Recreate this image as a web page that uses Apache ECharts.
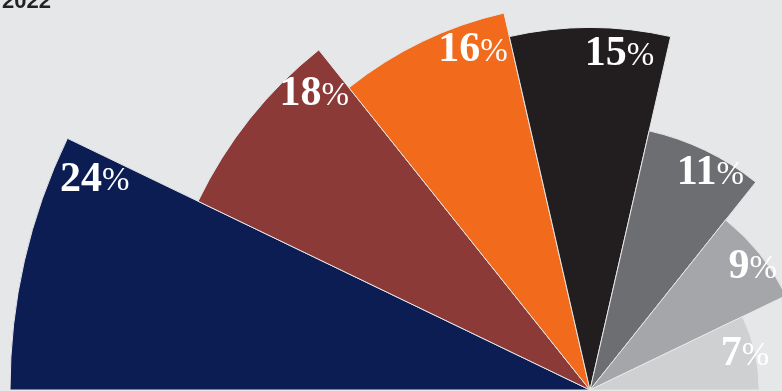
<!DOCTYPE html>
<html>
<head>
    <meta charset="UTF-8">
    <script src="https://cdn.jsdelivr.net/npm/echarts@6/dist/echarts.min.js"></script>
    <style>
        html, body { margin:0; padding:0; background:#e6e7e8; }
        #main { width:782px; height:391px; }
    </style>
</head>
<body>
    <div id="main"></div>
    <script>
        // shares, left to right
        var values = [24, 18, 16, 15, 11, 9, 7];
        var titleText = '2022';

        var chart = echarts.init(document.getElementById('main'));

        // rose 'area' spreads slices over the full circle, so pad the rest with empty slices
        function buildData(padCount) {
            var d = values.map(function (v) { return { value: v }; });
            for (var i = 0; i < padCount; i++) {
                d.push({ value: 0, itemStyle: { color: 'transparent', borderWidth: 0 }, label: { show: false } });
            }
            return d;
        }

        chart.setOption({
            backgroundColor: '#e6e7e8',
            color: ['#0c1d53', '#8b3a38', '#f26a1c', '#221e1f', '#6d6e71', '#a5a6a9', '#cfd0d2'],
            title: {
                text: titleText,
                left: -3,
                top: -14,
                textStyle: { fontFamily: 'Liberation Sans', fontWeight: 'bold', fontSize: 22, color: '#222' }
            },
            series: [{
                type: 'pie',
                roseType: 'area',
                center: [590, 390],
                radius: [0, 580],
                startAngle: 180,
                clockwise: true,
                silent: true,
                label: { show: false },
                labelLine: { show: false },
                itemStyle: { borderColor: '#e6e7e8', borderWidth: 1 },
                data: buildData(values.length)
            }, {
                // transparent copy only used to place the labels near the outer edge
                type: 'pie',
                roseType: 'area',
                center: [590, 390],
                radius: [0, 1070],
                startAngle: 169,
                clockwise: true,
                silent: true,
                itemStyle: { color: 'transparent' },
                labelLine: { show: false },
                label: {
                    show: true,
                    position: 'inside',
                    formatter: function (p) { return '{n|' + p.value + '}{p|%}'; },
                    rich: {
                        n: { fontFamily: 'Liberation Serif', fontWeight: 'bold', fontSize: 42, color: '#fff' },
                        p: { fontFamily: 'Liberation Serif', fontSize: 33, color: '#fff', padding: [4, 0, 0, 0] }
                    }
                },
                data: buildData(values.length + 1)
            }]
        });
    </script>
</body>
</html>
